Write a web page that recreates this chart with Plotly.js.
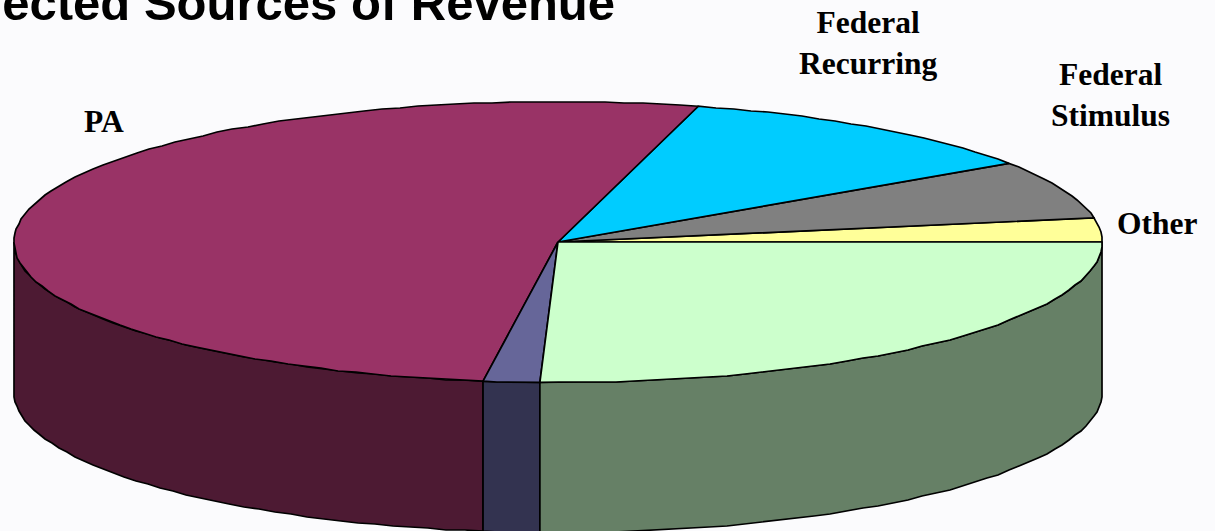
<!DOCTYPE html>
<html>
<head>
<meta charset="utf-8">
<script src="https://cdn.plot.ly/plotly-3.0.0.min.js"></script>
<style>html,body{margin:0;padding:0;background:#FBFBFD;overflow:hidden}</style>
</head>
<body>
<div id="chart" style="width:1215px;height:531px"></div>
<script>
// Data (percent of the whole, counter-clockwise from the right-hand edge)
const categories = ["Other", "Federal Stimulus", "Federal Recurring", "PA", "Unlabeled A", "Unlabeled B"];
const shares = [2.75, 6.7, 11.4, 51.95, 1.67, 25.53];
const topColors = ["#FFFF99", "#808080", "#00CCFF", "#993366", "#666699", "#CCFFCC"];
const wallColors = ["#808050", "#404040", "#006680", "#4D1A33", "#333350", "#668066"];
const labelTexts = ["Other", "Federal<br>Stimulus", "Federal<br>Recurring", "PA"];
const labelX = [1156.5, 1110.5, 867.5, 103.5];
const labelY = [223, 94.5, 42.5, 121];

// Projection of the tilted disc onto the page
const cx = 558, cy = 242, rx = 544, ry = 140.5, depth = 150;
const px = a => cx + rx * Math.cos(a * Math.PI / 180);
const py = a => cy - ry * Math.sin(a * Math.PI / 180);

function arc(a0, a1) {
  const n = Math.max(2, Math.ceil(Math.abs(a1 - a0) / 2));
  const out = [];
  for (let i = 0; i <= n; i++) out.push(a0 + (a1 - a0) * i / n);
  return out;
}
// The source outline is slightly stepped: round interior arc points to whole pixels, keep slice corners exact
const arcX = (list) => list.map((a, i) => (i === 0 || i === list.length - 1) ? px(a) : Math.round(px(a)));
const arcY = (list, off) => list.map((a, i) => ((i === 0 || i === list.length - 1) ? py(a) : Math.round(py(a))) + off);

const total = shares.reduce((s, v) => s + v, 0);
const walls = [], tops = [];
let start = 0;
shares.forEach((v, i) => {
  const end = start + v / total * 360;
  const line = {color: "#000000", width: 1.7};
  // outer wall: only the front half of the disc can be seen
  const a0 = Math.max(start, 180);
  if (end > 180) {
    const angles = arc(a0, end);
    const back = angles.slice().reverse();
    walls.push({
      type: "scatter", mode: "lines", fill: "toself", name: categories[i],
      fillcolor: wallColors[i], line, hoverinfo: "name",
      x: arcX(angles).concat(arcX(back), [px(angles[0])]),
      y: arcY(angles, 0).concat(arcY(back, depth), [py(angles[0])])
    });
  }
  const angles = arc(start, end);
  tops.push({
    type: "scatter", mode: "lines", fill: "toself", name: categories[i],
    fillcolor: topColors[i], line, hoverinfo: "name",
    x: [cx].concat(arcX(angles), [cx]),
    y: [cy].concat(arcY(angles, 0), [cy])
  });
  start = end;
});

const annotations = labelTexts.map((t, i) => ({
  text: t.split("<br>").map(s => "<b>" + s + "</b>").join("<br>"),
  x: labelX[i], y: labelY[i], xref: "x", yref: "y",
  showarrow: false, xanchor: "center", yanchor: "middle", align: "center",
  font: {family: "Liberation Serif", size: 31.5, color: "#000000"}
}));

const layout = {
  width: 1215, height: 531,
  margin: {l: 0, r: 0, t: 0, b: 0},
  paper_bgcolor: "#FBFBFD", plot_bgcolor: "#FBFBFD",
  showlegend: false,
  title: {
    text: "<b>Selected Sources of Revenue</b>",
    font: {family: "Liberation Sans", size: 49, color: "#000000"},
    xref: "paper", yref: "container",
    x: 615 / 1215, xanchor: "right", y: 0.995, yanchor: "middle", automargin: false
  },
  xaxis: {range: [0, 1215], visible: false, fixedrange: true},
  yaxis: {range: [531, 0], visible: false, fixedrange: true},
  annotations
};

Plotly.newPlot("chart", walls.concat(tops), layout, {displayModeBar: false, staticPlot: true});
</script>
</body>
</html>
